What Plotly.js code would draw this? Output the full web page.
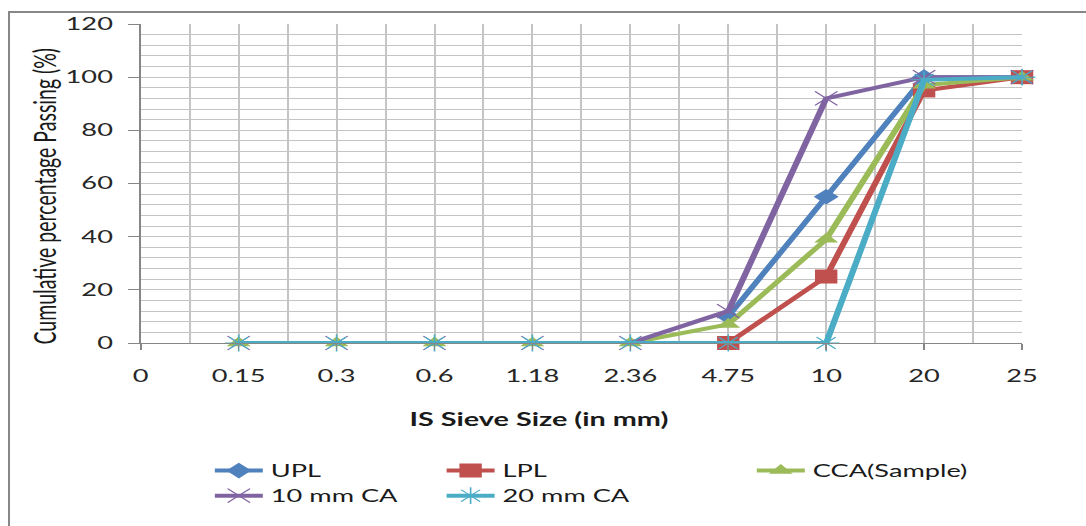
<!DOCTYPE html>
<html>
<head>
<meta charset="utf-8">
<script src="https://cdn.plot.ly/plotly-3.0.1.min.js"></script>
<style>
  html, body { margin: 0; padding: 0; background: #fff; overflow: hidden; width: 1086px; height: 526px; }
  #frame { position: absolute; left: 8px; top: 11px; width: 2000px; height: 1000px;
           border-left: 2px solid #878787; border-top: 2px solid #878787; pointer-events: none; z-index: 5; }
  #chart { position: absolute; left: 0; top: 0; width: 679px; height: 526px; transform-origin: 0 0; }
</style>
</head>
<body>
<div id="chart"></div>
<div id="frame"></div>
<script>
// Tick labels of the x axis (IS sieve sizes, mm)
const tickLabels = ['0', '0.15', '0.3', '0.6', '1.18', '2.36', '4.75', '10', '20', '25'];
// Sieve sizes at which values are recorded
const sieves = ['0.15', '0.3', '0.6', '1.18', '2.36', '4.75', '10', '20', '25'];
// Cumulative percentage passing (%)
const upl    = [null, null, null, null, null, 10, 55, 100, 100];
const lpl    = [null, null, null, null, null, 0, 25, 95, 100];
const cca    = [0, 0, 0, 0, 0, 7, 39, 97, 100];
const ca10mm = [0, 0, 0, 0, 0, 12, 92, 100, 100];
const ca20mm = [0, 0, 0, 0, 0, 0, 0, 99, 100];

const xPos = sieves.map(s => tickLabels.indexOf(s));
const xMax = tickLabels.length - 1;
const FONT = 'Lato, "Open Sans", sans-serif';
const GRID = '#c4c4c4';

function series(name, y, color, symbol, size, legend, open) {
  return {
    type: 'scatter', mode: 'lines+markers', name: name, x: xPos, y: y,
    legend: legend, cliponaxis: false, connectgaps: false,
    line: { color: color, width: 4 },
    marker: open
      ? { symbol: symbol, size: size, color: color, line: { color: color, width: 1 } }
      : { symbol: symbol, size: size, color: color, line: { width: 0 } }
  };
}

const data = [
  // empty helper trace so the half-step grid axis is drawn
  { type: 'scatter', mode: 'none', x: [], y: [], xaxis: 'x2', yaxis: 'y',
    showlegend: false, hoverinfo: 'skip' },
  series('UPL', upl, '#4F81BD', 'diamond', 12, 'legend', false),
  series('LPL', lpl, '#C0504D', 'square', 14, 'legend2', false),
  series('CCA(Sample)', cca, '#9BBB59', 'triangle-up', 13, 'legend3', false),
  series('10 mm CA', ca10mm, '#8064A2', 'x-thin-open', 14, 'legend', true),
  series('20 mm CA', ca20mm, '#4BACC6', 'asterisk-open', 14, 'legend2', true)
];

const legendBase = {
  orientation: 'v', xanchor: 'left', yanchor: 'top', y: -0.345,
  bgcolor: 'rgba(0,0,0,0)', borderwidth: 0,
  font: { family: FONT, size: 17, color: '#1a1a1a' }, traceorder: 'normal'
};

const layout = {
  width: 679, height: 526, autosize: false,
  margin: { l: 88, r: 40, t: 24, b: 181 },
  paper_bgcolor: '#ffffff', plot_bgcolor: '#ffffff',
  font: { family: FONT, size: 17, color: '#262626' },
  showlegend: true,
  legend: Object.assign({}, legendBase, { x: 0.075 }),
  legend2: Object.assign({}, legendBase, { x: 0.338 }),
  legend3: Object.assign({}, legendBase, { x: 0.69 }),
  xaxis: {
    type: 'linear', range: [0, xMax], fixedrange: true,
    tickmode: 'array', tickvals: tickLabels.map((t, i) => i), ticktext: tickLabels,
    ticks: 'outside', ticklen: 6, tickcolor: '#868686', tickwidth: 1,
    ticklabelstandoff: 12,
    showline: true, linecolor: '#868686', linewidth: 1,
    showgrid: true, gridcolor: GRID, gridwidth: 1.25, zeroline: false,
    tickfont: { family: FONT, size: 17, color: '#262626' }
  },
  xaxis2: {
    type: 'linear', range: [0, xMax], overlaying: 'x', anchor: 'y', side: 'bottom',
    fixedrange: true, tickmode: 'linear', tick0: 0.5, dtick: 1,
    showticklabels: false, ticks: '', showline: false, zeroline: false,
    showgrid: true, gridcolor: GRID, gridwidth: 1.25
  },
  yaxis: {
    range: [0, 120], dtick: 20, fixedrange: true,
    ticks: 'outside', ticklen: 7, tickcolor: '#868686', tickwidth: 1,
    ticklabelstandoff: 6,
    showline: true, linecolor: '#868686', linewidth: 1,
    showgrid: true, gridcolor: GRID, gridwidth: 1, zeroline: false,
    minor: { dtick: 4, showgrid: true, gridcolor: GRID, gridwidth: 1, ticks: '' },
    tickfont: { family: FONT, size: 17, color: '#262626' }
  },
  annotations: [
    { text: '<b>IS Sieve Size (in mm)</b>', xref: 'paper', yref: 'paper',
      x: 0.4528, y: -0.239, xanchor: 'center', yanchor: 'middle', showarrow: false,
      font: { family: FONT, size: 18, color: '#1a1a1a' } },
    { text: 'Cumulative percentage Passing (%)', xref: 'paper', yref: 'paper',
      x: -0.109, y: 0.462, xanchor: 'center', yanchor: 'middle', showarrow: false,
      textangle: -90, font: { family: FONT, size: 19.5, color: '#1a1a1a' } }
  ]
};

Plotly.newPlot('chart', data, layout, { displayModeBar: false, staticPlot: true }).then(function () {
  document.getElementById('chart').style.transform = 'scaleX(' + (1086 / 679) + ')';
});
</script>
</body>
</html>
